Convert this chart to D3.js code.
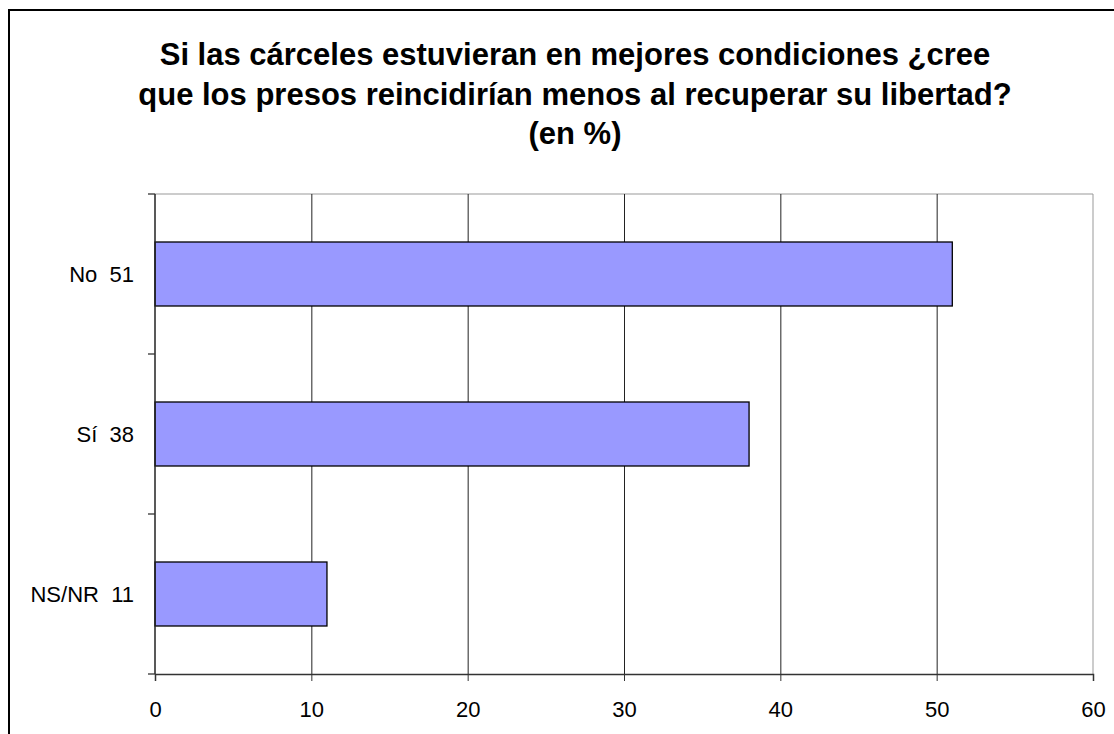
<!DOCTYPE html>
<html>
<head>
<meta charset="utf-8">
<script src="https://cdn.jsdelivr.net/npm/d3@7"></script>
<style>
  body { margin: 0; background: #fff; }
  svg { display: block; font-family: Arial, "Liberation Sans", sans-serif; }
</style>
</head>
<body>
<div id="chart"></div>
<script>
// datos de la encuesta
const categories = ["No", "Sí", "NS/NR"];
const values = [51, 38, 11];
const xTicks = [0, 10, 20, 30, 40, 50, 60];
const titleLines = [
  "Si las cárceles estuvieran en mejores condiciones ¿cree",
  "que los presos reincidirían menos al recuperar su libertad?",
  "(en %)"
];

const width = 1114;
const height = 734;
const margin = { top: 194, right: 21, bottom: 60, left: 155 };

const svg = d3.select("#chart")
  .append("svg")
  .attr("width", width)
  .attr("height", height);

// marco exterior (se sale por la derecha y abajo)
svg.append("rect")
  .attr("x", 9).attr("y", 10)
  .attr("width", width + 20).attr("height", height + 20)
  .attr("fill", "none")
  .attr("stroke", "#000")
  .attr("stroke-width", 2);

// titulo
svg.append("g")
  .selectAll("text")
  .data(titleLines)
  .join("text")
  .attr("x", 575)
  .attr("y", (d, i) => 65 + i * 39.5)
  .attr("text-anchor", "middle")
  .attr("font-size", 31)
  .attr("font-weight", "bold")
  .text((d) => d);

const x = d3.scaleLinear()
  .domain([0, 60])
  .range([margin.left, width - margin.right]);

const y = d3.scaleBand()
  .domain(categories)
  .range([margin.top, height - margin.bottom])
  .paddingInner(0.6)
  .paddingOuter(0.3);

const plotTop = margin.top;
const plotBottom = height - margin.bottom;

// borde gris del area de trazado
svg.append("path")
  .attr("d", `M${x(0)},${plotTop}H${x(60)}V${plotBottom}`)
  .attr("fill", "none")
  .attr("stroke", "#999")
  .attr("stroke-width", 1);

// lineas de cuadricula
svg.append("g")
  .selectAll("line")
  .data(xTicks.slice(1, -1))
  .join("line")
  .attr("x1", (d) => x(d) + 0.5)
  .attr("x2", (d) => x(d) + 0.5)
  .attr("y1", plotTop)
  .attr("y2", plotBottom)
  .attr("stroke", "#222")
  .attr("stroke-width", 1);

// barras
svg.append("g")
  .selectAll("rect")
  .data(values)
  .join("rect")
  .attr("x", x(0))
  .attr("y", (d, i) => y(categories[i]))
  .attr("width", (d) => x(d) - x(0))
  .attr("height", y.bandwidth())
  .attr("fill", "#9999ff")
  .attr("stroke", "#000")
  .attr("stroke-width", 1.3);

// eje x
const xAxis = svg.append("g")
  .attr("transform", `translate(0,${plotBottom})`)
  .call(d3.axisBottom(x).tickValues(xTicks).tickSize(7).tickPadding(20));
xAxis.select(".domain").attr("stroke", "#333").attr("stroke-width", 1.5);
xAxis.selectAll(".tick line").attr("stroke", "#333");
xAxis.selectAll("text").attr("font-size", 22).attr("fill", "#000")
  .attr("font-family", "Arial, 'Liberation Sans', sans-serif");

// eje y: marcas entre categorias
const bandEdges = d3.range(categories.length + 1)
  .map((i) => plotTop + (i * (plotBottom - plotTop)) / categories.length);

svg.append("line")
  .attr("x1", x(0)).attr("x2", x(0))
  .attr("y1", plotTop).attr("y2", plotBottom)
  .attr("stroke", "#222").attr("stroke-width", 1.5);

svg.append("g")
  .selectAll("line")
  .data(bandEdges)
  .join("line")
  .attr("x1", x(0) - 7)
  .attr("x2", x(0))
  .attr("y1", (d) => d)
  .attr("y2", (d) => d)
  .attr("stroke", "#333")
  .attr("stroke-width", 1.3);

// etiquetas de categoria con su valor
svg.append("g")
  .selectAll("text")
  .data(categories)
  .join("text")
  .attr("x", 134)
  .attr("y", (d) => y(d) + y.bandwidth() / 2)
  .attr("dy", "0.35em")
  .attr("text-anchor", "end")
  .attr("font-size", 22)
  .attr("xml:space", "preserve")
  .text((d, i) => `${d}  ${values[i]}`);
</script>
</body>
</html>
